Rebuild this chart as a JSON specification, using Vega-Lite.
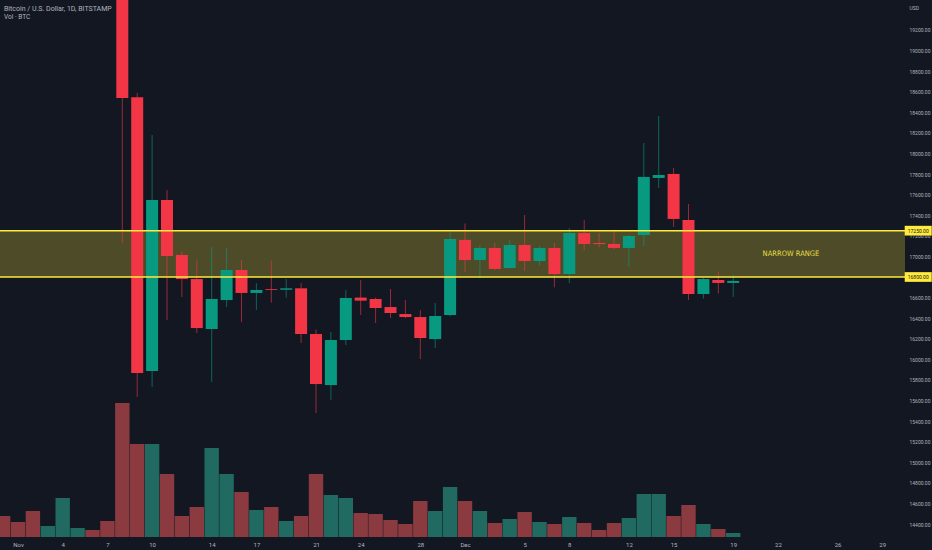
{
  "$schema": "https://vega.github.io/schema/vega-lite/v6.json",
  "width": 905,
  "height": 537,
  "autosize": "none",
  "padding": {"left": 0, "top": 0, "right": 27, "bottom": 13},
  "background": "#131722",
  "config": {
    "view": {"stroke": null},
    "font": "Roboto"
  },
  "title": {
    "text": "Bitcoin / U.S. Dollar, 1D, BITSTAMP",
    "subtitle": "Vol · BTC",
    "anchor": "start",
    "frame": "group",
    "orient": "top",
    "offset": -20,
    "dx": 4,
    "fontSize": 7,
    "fontWeight": "normal",
    "color": "#b2b5be",
    "subtitleColor": "#b2b5be",
    "subtitleFontSize": 6.5,
    "subtitlePadding": 2
  },
  "datasets": {
    "candles": [
      {"date": "2022-10-31", "open": 20630, "high": 20840, "low": 20380, "close": 20490, "volume": 2100},
      {"date": "2022-11-01", "open": 20490, "high": 20690, "low": 20330, "close": 20480, "volume": 1500},
      {"date": "2022-11-02", "open": 20480, "high": 20790, "low": 20060, "close": 20160, "volume": 2600},
      {"date": "2022-11-03", "open": 20160, "high": 20390, "low": 20060, "close": 20210, "volume": 1100},
      {"date": "2022-11-04", "open": 20210, "high": 21300, "low": 20190, "close": 21150, "volume": 3900},
      {"date": "2022-11-05", "open": 21150, "high": 21470, "low": 21090, "close": 21300, "volume": 900},
      {"date": "2022-11-06", "open": 21300, "high": 21360, "low": 20900, "close": 20920, "volume": 700},
      {"date": "2022-11-07", "open": 20920, "high": 21070, "low": 20390, "close": 20600, "volume": 1600},
      {"date": "2022-11-08", "open": 20600, "high": 20670, "low": 17130, "close": 18540, "volume": 13400},
      {"date": "2022-11-09", "open": 18545, "high": 18590, "low": 15634, "close": 15867, "volume": 9300},
      {"date": "2022-11-10", "open": 15886, "high": 18180, "low": 15731, "close": 17548, "volume": 9300},
      {"date": "2022-11-11", "open": 17548, "high": 17645, "low": 16382, "close": 17004, "volume": 6300},
      {"date": "2022-11-12", "open": 17014, "high": 17050, "low": 16606, "close": 16780, "volume": 2100},
      {"date": "2022-11-13", "open": 16780, "high": 16960, "low": 16256, "close": 16304, "volume": 3000},
      {"date": "2022-11-14", "open": 16295, "high": 17091, "low": 15780, "close": 16586, "volume": 8900},
      {"date": "2022-11-15", "open": 16576, "high": 17082, "low": 16508, "close": 16868, "volume": 6300},
      {"date": "2022-11-16", "open": 16868, "high": 16965, "low": 16363, "close": 16645, "volume": 4500},
      {"date": "2022-11-17", "open": 16645, "high": 16740, "low": 16479, "close": 16674, "volume": 2700},
      {"date": "2022-11-18", "open": 16683, "high": 16960, "low": 16550, "close": 16675, "volume": 3000},
      {"date": "2022-11-19", "open": 16676, "high": 16780, "low": 16600, "close": 16690, "volume": 1600},
      {"date": "2022-11-20", "open": 16690, "high": 16742, "low": 16159, "close": 16246, "volume": 2100},
      {"date": "2022-11-21", "open": 16246, "high": 16290, "low": 15478, "close": 15760, "volume": 6300},
      {"date": "2022-11-22", "open": 15750, "high": 16265, "low": 15605, "close": 16188, "volume": 4200},
      {"date": "2022-11-23", "open": 16188, "high": 16674, "low": 16139, "close": 16596, "volume": 3900},
      {"date": "2022-11-24", "open": 16600, "high": 16771, "low": 16431, "close": 16570, "volume": 2400},
      {"date": "2022-11-25", "open": 16586, "high": 16600, "low": 16353, "close": 16499, "volume": 2300},
      {"date": "2022-11-26", "open": 16508, "high": 16683, "low": 16400, "close": 16450, "volume": 1700},
      {"date": "2022-11-27", "open": 16440, "high": 16576, "low": 16400, "close": 16411, "volume": 1300},
      {"date": "2022-11-28", "open": 16411, "high": 16480, "low": 16003, "close": 16207, "volume": 3600},
      {"date": "2022-11-29", "open": 16197, "high": 16547, "low": 16110, "close": 16421, "volume": 2600},
      {"date": "2022-11-30", "open": 16431, "high": 17240, "low": 16420, "close": 17169, "volume": 5000},
      {"date": "2022-12-01", "open": 17160, "high": 17320, "low": 16849, "close": 16965, "volume": 3600},
      {"date": "2022-12-02", "open": 16965, "high": 17110, "low": 16790, "close": 17082, "volume": 2600},
      {"date": "2022-12-03", "open": 17082, "high": 17130, "low": 16870, "close": 16878, "volume": 1400},
      {"date": "2022-12-04", "open": 16888, "high": 17160, "low": 16880, "close": 17111, "volume": 1800},
      {"date": "2022-12-05", "open": 17111, "high": 17402, "low": 16860, "close": 16955, "volume": 2500},
      {"date": "2022-12-06", "open": 16955, "high": 17100, "low": 16910, "close": 17082, "volume": 1500},
      {"date": "2022-12-07", "open": 17082, "high": 17130, "low": 16700, "close": 16829, "volume": 1300},
      {"date": "2022-12-08", "open": 16829, "high": 17276, "low": 16740, "close": 17227, "volume": 2000},
      {"date": "2022-12-09", "open": 17227, "high": 17354, "low": 17060, "close": 17121, "volume": 1400},
      {"date": "2022-12-10", "open": 17130, "high": 17227, "low": 17090, "close": 17120, "volume": 700},
      {"date": "2022-12-11", "open": 17121, "high": 17260, "low": 17070, "close": 17082, "volume": 1400},
      {"date": "2022-12-12", "open": 17082, "high": 17210, "low": 16897, "close": 17198, "volume": 1900},
      {"date": "2022-12-13", "open": 17208, "high": 18102, "low": 17100, "close": 17772, "volume": 4300},
      {"date": "2022-12-14", "open": 17762, "high": 18364, "low": 17665, "close": 17791, "volume": 4300},
      {"date": "2022-12-15", "open": 17801, "high": 17859, "low": 17286, "close": 17364, "volume": 2100},
      {"date": "2022-12-16", "open": 17354, "high": 17509, "low": 16576, "close": 16635, "volume": 3200},
      {"date": "2022-12-17", "open": 16635, "high": 16790, "low": 16590, "close": 16780, "volume": 1300},
      {"date": "2022-12-18", "open": 16771, "high": 16849, "low": 16640, "close": 16742, "volume": 800},
      {"date": "2022-12-19", "open": 16742, "high": 16820, "low": 16606, "close": 16762, "volume": 400}
    ],
    "zone": [
      {"lo": 16800, "hi": 17250, "note": "NARROW RANGE", "at": "2022-12-22T21:00:00Z", "mid": 17025}
    ],
    "levels": [
      {"level": 17250, "label": "17250.00"},
      {"level": 16800, "label": "16800.00"}
    ]
  },
  "resolve": {"scale": {"y": "independent"}},
  "layer": [
    {
      "data": {"name": "candles"},
      "mark": {"type": "bar", "width": 14.4},
      "encoding": {
        "x": {
          "field": "date",
          "type": "temporal",
          "scale": {
            "type": "utc",
            "padding": 0,
            "domain": [
              {"year": 2022, "month": 10, "date": 30, "hours": 19, "minutes": 0, "utc": true},
              {"year": 2022, "month": 12, "date": 30, "hours": 12, "minutes": 43, "utc": true}
            ]
          },
          "axis": {
            "values": [
              {"year": 2022, "month": 11, "date": 1, "utc": true},
              {"year": 2022, "month": 11, "date": 4, "utc": true},
              {"year": 2022, "month": 11, "date": 7, "utc": true},
              {"year": 2022, "month": 11, "date": 10, "utc": true},
              {"year": 2022, "month": 11, "date": 14, "utc": true},
              {"year": 2022, "month": 11, "date": 17, "utc": true},
              {"year": 2022, "month": 11, "date": 21, "utc": true},
              {"year": 2022, "month": 11, "date": 24, "utc": true},
              {"year": 2022, "month": 11, "date": 28, "utc": true},
              {"year": 2022, "month": 12, "date": 1, "utc": true},
              {"year": 2022, "month": 12, "date": 5, "utc": true},
              {"year": 2022, "month": 12, "date": 8, "utc": true},
              {"year": 2022, "month": 12, "date": 12, "utc": true},
              {"year": 2022, "month": 12, "date": 15, "utc": true},
              {"year": 2022, "month": 12, "date": 19, "utc": true},
              {"year": 2022, "month": 12, "date": 22, "utc": true},
              {"year": 2022, "month": 12, "date": 26, "utc": true},
              {"year": 2022, "month": 12, "date": 29, "utc": true}
            ],
            "labelExpr": "utcdate(datum.value) == 1 ? utcFormat(datum.value, '%b') : utcFormat(datum.value, '%-d')",
            "title": null,
            "grid": false,
            "ticks": false,
            "domain": false,
            "labelColor": "#b2b5be",
            "labelFontSize": 6,
            "labelPadding": 4,
            "labelFlush": false,
            "labelOverlap": false
          }
        },
        "y": {
          "field": "volume",
          "type": "quantitative",
          "scale": {"domain": [0, 53700], "nice": false, "zero": true, "padding": 0},
          "axis": null
        },
        "color": {
          "condition": {"test": "datum.close >= datum.open", "value": "#206a61"},
          "value": "#8b3a40"
        }
      }
    },
    {
      "layer": [
        {
          "data": {"name": "zone"},
          "mark": {"type": "rect", "color": "#ffeb3b", "opacity": 0.25},
          "encoding": {
            "y": {
              "field": "hi",
              "type": "quantitative",
              "scale": {"domain": [14274, 19491], "nice": false, "zero": false, "padding": 0},
              "axis": {
                "orient": "right",
                "values": [14400, 14600, 14800, 15000, 15200, 15400, 15600, 15800, 16000, 16200, 16400, 16600, 16800, 17000, 17200, 17400, 17600, 17800, 18000, 18200, 18400, 18600, 18800, 19000, 19200],
                "tickCount": 25,
                "format": ".2f",
                "grid": false,
                "ticks": false,
                "domain": false,
                "labelColor": "#b2b5be",
                "labelFontSize": 5,
                "labelPadding": 4,
                "labelFlush": false,
                "labelOverlap": false,
                "title": "USD",
                "titleAngle": 0,
                "titleAlign": "left",
                "titleBaseline": "middle",
                "titleX": 4,
                "titleY": 7,
                "titleColor": "#b2b5be",
                "titleFontSize": 5,
                "titleFontWeight": "normal"
              }
            },
            "y2": {"field": "lo"}
          }
        },
        {
          "data": {"name": "candles"},
          "mark": {"type": "rule", "strokeWidth": 1, "opacity": 0.6, "clip": true},
          "encoding": {
            "x": {"field": "date", "type": "temporal"},
            "y": {"field": "low", "type": "quantitative"},
            "y2": {"field": "high"},
            "color": {
              "condition": {"test": "datum.close >= datum.open", "value": "#089981"},
              "value": "#F23645"
            }
          }
        },
        {
          "data": {"name": "candles"},
          "mark": {"type": "bar", "width": 12, "clip": true},
          "encoding": {
            "x": {"field": "date", "type": "temporal"},
            "y": {"field": "open", "type": "quantitative"},
            "y2": {"field": "close"},
            "color": {
              "condition": {"test": "datum.close >= datum.open", "value": "#089981"},
              "value": "#F23645"
            }
          }
        },
        {
          "data": {"name": "levels"},
          "mark": {"type": "rule", "color": "#ffeb3b", "strokeWidth": 1.5},
          "encoding": {
            "y": {"field": "level", "type": "quantitative"}
          }
        },
        {
          "data": {"name": "zone"},
          "mark": {"type": "text", "color": "#e6dc45", "fontSize": 7.5, "font": "Liberation Sans Narrow, DejaVu Sans Condensed, sans-serif", "align": "center", "baseline": "middle"},
          "encoding": {
            "x": {"field": "at", "type": "temporal"},
            "y": {"field": "mid", "type": "quantitative"},
            "text": {"field": "note"}
          }
        },
        {
          "data": {"name": "levels"},
          "mark": {"type": "point", "shape": "M-1,-0.36H1V0.36H-1Z", "size": 729, "filled": true, "color": "#ffeb3b", "opacity": 1, "strokeWidth": 0, "clip": false},
          "encoding": {
            "x": {"datum": {"year": 2022, "month": 12, "date": 31, "hours": 10, "minutes": 0, "utc": true}, "type": "temporal"},
            "y": {"field": "level", "type": "quantitative"}
          }
        },
        {
          "data": {"name": "levels"},
          "mark": {"type": "text", "color": "#131722", "fontSize": 5, "align": "center", "baseline": "middle", "clip": false},
          "encoding": {
            "x": {"datum": {"year": 2022, "month": 12, "date": 31, "hours": 10, "minutes": 0, "utc": true}, "type": "temporal"},
            "y": {"field": "level", "type": "quantitative"},
            "text": {"field": "label"}
          }
        }
      ]
    }
  ]
}
